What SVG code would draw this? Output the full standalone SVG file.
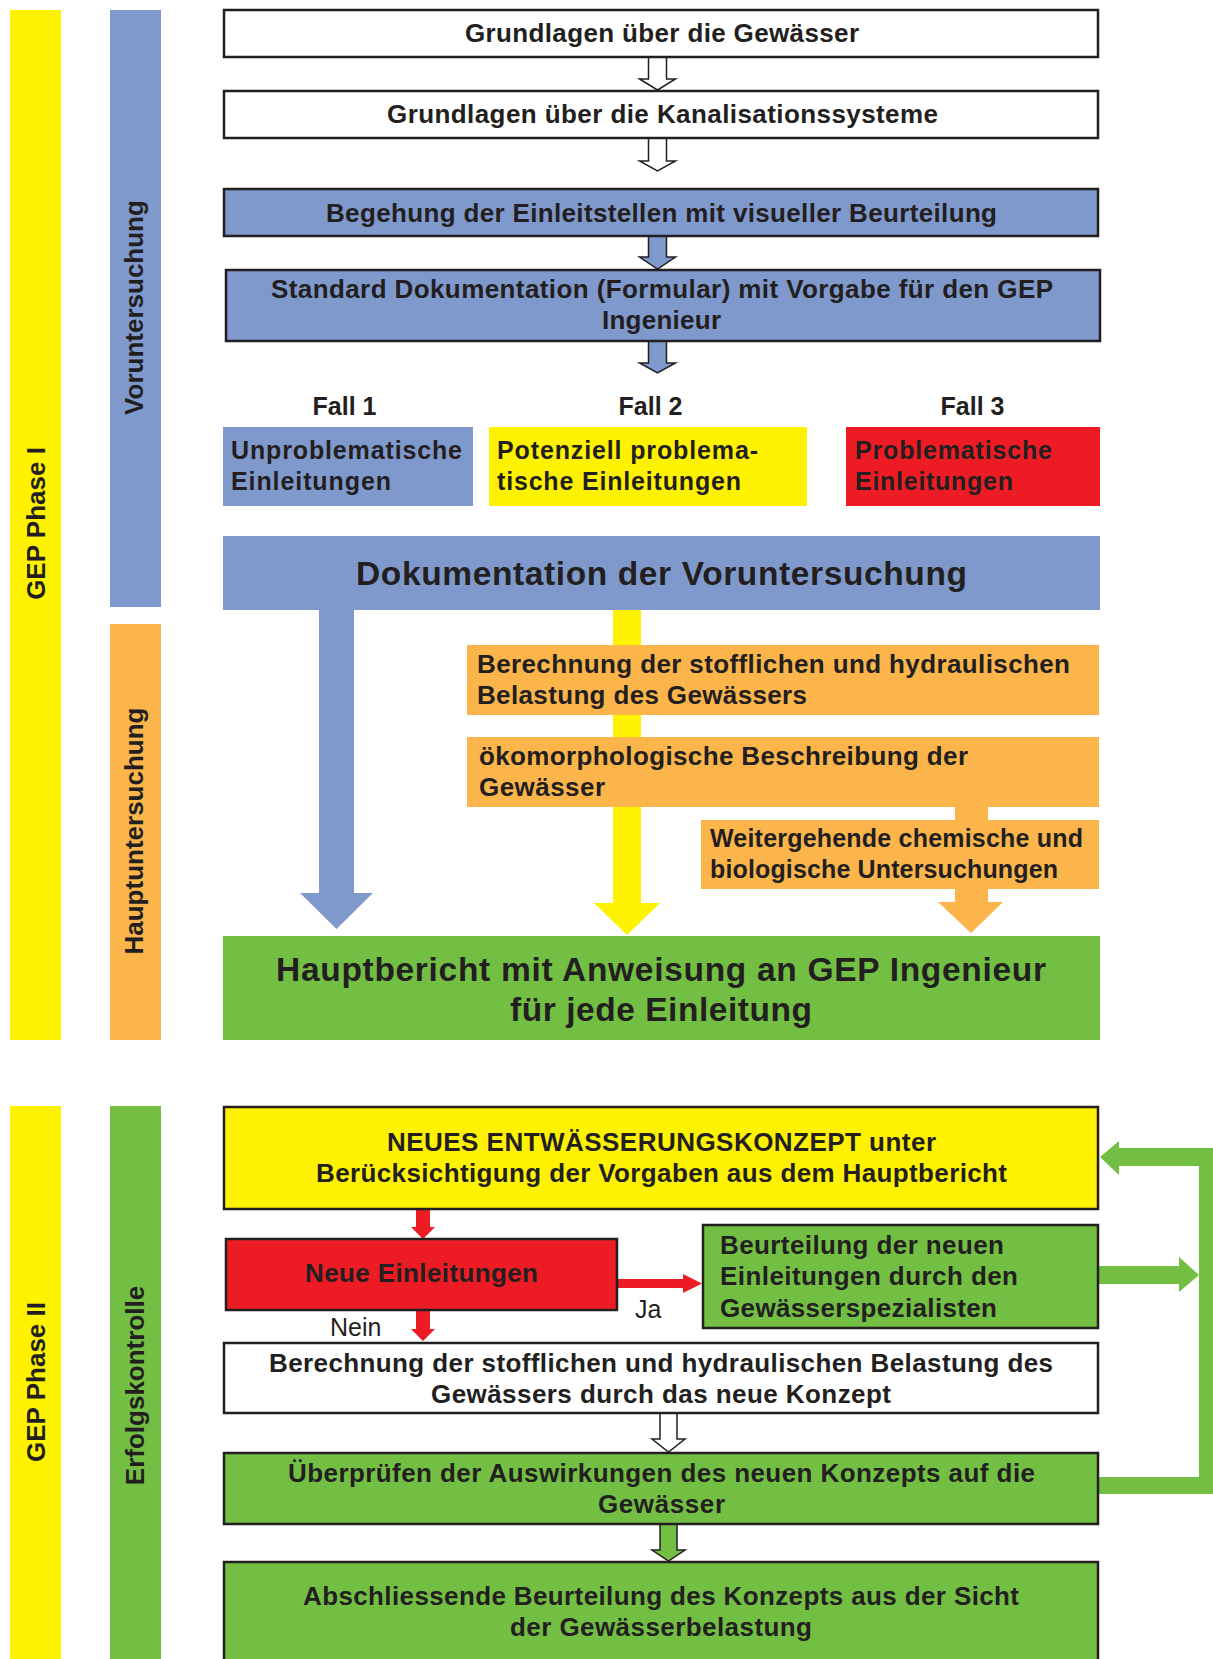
<svg xmlns="http://www.w3.org/2000/svg" width="1213" height="1659" viewBox="0 0 1213 1659">
<style>
.t{font-family:"Liberation Sans",Arial,sans-serif;font-weight:bold;fill:#231f20;font-size:26px}
.f{font-size:25px}
.big{font-size:33.5px}
.side{font-size:26px}
.reg{font-weight:normal;font-size:25px}
.bx{stroke:#231f20;stroke-width:2.5}
.ar{stroke:#231f20;stroke-width:1.5}
.yel{fill:#fff200}.blu{fill:#7f99cc}.ora{fill:#fbb54a}.red{fill:#ed1c24}.grn{fill:#72bf44}.wht{fill:#ffffff}
</style>
<rect width="1213" height="1659" fill="#ffffff"/>

<g id="side-phase1">
<rect class="yel" x="10" y="10" width="51" height="1030"/>
<text class="t side" transform="translate(44.5,523.5) rotate(-90)" text-anchor="middle">GEP Phase I</text>
</g>
<g id="side-vorunt">
<rect class="blu" x="110" y="10" width="51" height="597"/>
<text class="t side" transform="translate(143,307.5) rotate(-90)" text-anchor="middle">Voruntersuchung</text>
</g>
<g id="side-hauptunt">
<rect class="ora" x="110" y="624" width="51" height="416"/>
<text class="t side" transform="translate(143,831) rotate(-90)" text-anchor="middle">Hauptuntersuchung</text>
</g>
<g id="side-phase2">
<rect class="yel" x="10" y="1106" width="51" height="560"/>
<text class="t side" transform="translate(44.5,1382) rotate(-90)" text-anchor="middle">GEP Phase II</text>
</g>
<g id="side-erfolg">
<rect class="grn" x="110" y="1106" width="51" height="560"/>
<text class="t side" transform="translate(143.5,1385.5) rotate(-90)" text-anchor="middle">Erfolgskontrolle</text>
</g>

<g id="connectors">
<polygon class="wht ar" points="648.5,57 666.5,57 666.5,79 675.5,79 657.5,90 639.5,79 648.5,79"/>
<polygon class="wht ar" points="648.5,138 666.5,138 666.5,161 675.5,161 657.5,171 639.5,161 648.5,161"/>
<polygon class="blu ar" points="648.5,236 666.5,236 666.5,257 675.5,257 657.5,269 639.5,257 648.5,257"/>
<polygon class="blu ar" points="648.5,341 666.5,341 666.5,363 675.5,363 657.5,373 639.5,363 648.5,363"/>
<polygon class="blu" points="319,609 354,609 354,893 373,893 336.5,929 300,893 319,893"/>
<polygon class="yel" points="613,609 641,609 641,903 660,903 627,935 594,903 613,903"/>
<polygon class="ora" points="955,805 988,805 988,902 1003,902 971,933 938,902 955,902"/>
<polygon class="red" points="416,1209 430,1209 430,1227 435,1227 423,1239 411,1227 416,1227"/>
<polygon class="red" points="416,1310 430,1310 430,1329 435,1329 423,1341 411,1329 416,1329"/>
<polygon class="red" points="617,1279 683,1279 683,1274 702,1283.5 683,1293 683,1288 617,1288"/>
<polygon class="grn" points="1098,1266 1179,1266 1179,1257 1199,1275 1179,1292 1179,1284 1098,1284"/>
<polygon class="grn" points="1098,1477 1199,1477 1199,1166 1119,1166 1119,1175 1100,1157 1119,1141 1119,1148 1213,1148 1213,1494 1098,1494"/>
<polygon class="wht ar" points="660,1413 677,1413 677,1439 685,1439 668.5,1452 652,1439 660,1439"/>
<polygon class="grn ar" points="660,1524 677,1524 677,1550 685,1550 668.5,1561 652,1550 660,1550"/>
<text class="t reg" x="635" y="1318">Ja</text>
<text class="t reg" x="330" y="1336">Nein</text>
</g>

<g id="n-grundlagen-gew">
<rect class="wht bx" x="224" y="10" width="874" height="47"/>
<text class="t" x="465" y="42" textLength="394" lengthAdjust="spacing">Grundlagen über die Gewässer</text>
</g>
<g id="n-grundlagen-kan">
<rect class="wht bx" x="224" y="91" width="874" height="47"/>
<text class="t" x="387" y="123" textLength="551" lengthAdjust="spacing">Grundlagen über die Kanalisationssysteme</text>
</g>
<g id="n-begehung">
<rect class="blu bx" x="224" y="189" width="874" height="47"/>
<text class="t" x="326" y="222" textLength="671" lengthAdjust="spacing">Begehung der Einleitstellen mit visueller Beurteilung</text>
</g>
<g id="n-standard">
<rect class="blu bx" x="226" y="270" width="874" height="71"/>
<text class="t" x="271" y="298" textLength="782" lengthAdjust="spacing">Standard Dokumentation (Formular) mit Vorgabe für den GEP</text>
<text class="t" x="602" y="329" textLength="119" lengthAdjust="spacing">Ingenieur</text>
</g>
<g id="n-fall1">
<text class="t f" x="344.5" y="415" text-anchor="middle">Fall 1</text>
<rect class="blu" x="223" y="427" width="250" height="79"/>
<text class="t f" x="231" y="459" textLength="231" lengthAdjust="spacing">Unproblematische</text>
<text class="t f" x="231" y="490" textLength="160" lengthAdjust="spacing">Einleitungen</text>
</g>
<g id="n-fall2">
<text class="t f" x="650.5" y="415" text-anchor="middle">Fall 2</text>
<rect class="yel" x="489" y="427" width="318" height="79"/>
<text class="t f" x="497" y="459" textLength="261" lengthAdjust="spacing">Potenziell problema-</text>
<text class="t f" x="497" y="490" textLength="244" lengthAdjust="spacing">tische Einleitungen</text>
</g>
<g id="n-fall3">
<text class="t f" x="972.5" y="415" text-anchor="middle">Fall 3</text>
<rect class="red" x="846" y="427" width="254" height="79"/>
<text class="t f" x="855" y="459" textLength="197" lengthAdjust="spacing">Problematische</text>
<text class="t f" x="855" y="490" textLength="158" lengthAdjust="spacing">Einleitungen</text>
</g>
<g id="n-doku">
<rect class="blu" x="223" y="536" width="877" height="74"/>
<text class="t big" x="356" y="585" textLength="611" lengthAdjust="spacing">Dokumentation der Voruntersuchung</text>
</g>
<g id="n-berechnung1">
<rect class="ora" x="467" y="645" width="632" height="70"/>
<text class="t" x="477" y="673" textLength="593" lengthAdjust="spacing">Berechnung der stofflichen und hydraulischen</text>
<text class="t" x="477" y="704" textLength="330" lengthAdjust="spacing">Belastung des Gewässers</text>
</g>
<g id="n-oekomorph">
<rect class="ora" x="467" y="737" width="632" height="70"/>
<text class="t" x="479" y="765" textLength="489" lengthAdjust="spacing">ökomorphologische Beschreibung der</text>
<text class="t" x="479" y="796" textLength="126" lengthAdjust="spacing">Gewässer</text>
</g>
<g id="n-weitergehend">
<rect class="ora" x="701" y="820" width="398" height="69"/>
<text class="t f" x="710" y="847" textLength="373" lengthAdjust="spacing">Weitergehende chemische und</text>
<text class="t f" x="710" y="878" textLength="348" lengthAdjust="spacing">biologische Untersuchungen</text>
</g>
<g id="n-hauptbericht">
<rect class="grn" x="223" y="936" width="877" height="104"/>
<text class="t big" x="276" y="981" textLength="770" lengthAdjust="spacing">Hauptbericht mit Anweisung an GEP Ingenieur</text>
<text class="t big" x="510" y="1021" textLength="302" lengthAdjust="spacing">für jede Einleitung</text>
</g>

<g id="n-neues">
<rect class="yel bx" x="224" y="1107" width="874" height="102"/>
<text class="t" x="387" y="1151" textLength="549" lengthAdjust="spacing">NEUES ENTWÄSSERUNGSKONZEPT unter</text>
<text class="t" x="316" y="1182" textLength="691" lengthAdjust="spacing">Berücksichtigung der Vorgaben aus dem Hauptbericht</text>
</g>
<g id="n-neue-einl">
<rect class="red bx" x="226" y="1239" width="391" height="71"/>
<text class="t" x="305" y="1282" textLength="233" lengthAdjust="spacing">Neue Einleitungen</text>
</g>
<g id="n-beurteilung">
<rect class="grn bx" x="703" y="1225" width="395" height="103"/>
<text class="t" x="720" y="1254" textLength="284" lengthAdjust="spacing">Beurteilung der neuen</text>
<text class="t" x="720" y="1285" textLength="298" lengthAdjust="spacing">Einleitungen durch den</text>
<text class="t" x="720" y="1317" textLength="277" lengthAdjust="spacing">Gewässerspezialisten</text>
</g>
<g id="n-berechnung2">
<rect class="wht bx" x="224" y="1343" width="874" height="70"/>
<text class="t" x="269" y="1372" textLength="784" lengthAdjust="spacing">Berechnung der stofflichen und hydraulischen Belastung des</text>
<text class="t" x="431" y="1403" textLength="460" lengthAdjust="spacing">Gewässers durch das neue Konzept</text>
</g>
<g id="n-ueberpruefen">
<rect class="grn bx" x="224" y="1453" width="874" height="71"/>
<text class="t" x="288" y="1482" textLength="747" lengthAdjust="spacing">Überprüfen der Auswirkungen des neuen Konzepts auf die</text>
<text class="t" x="598" y="1513" textLength="127" lengthAdjust="spacing">Gewässer</text>
</g>
<g id="n-abschliessend">
<rect class="grn bx" x="224" y="1562" width="874" height="110"/>
<text class="t" x="303" y="1605" textLength="716" lengthAdjust="spacing">Abschliessende Beurteilung des Konzepts aus der Sicht</text>
<text class="t" x="510" y="1636" textLength="302" lengthAdjust="spacing">der Gewässerbelastung</text>
</g>
</svg>
